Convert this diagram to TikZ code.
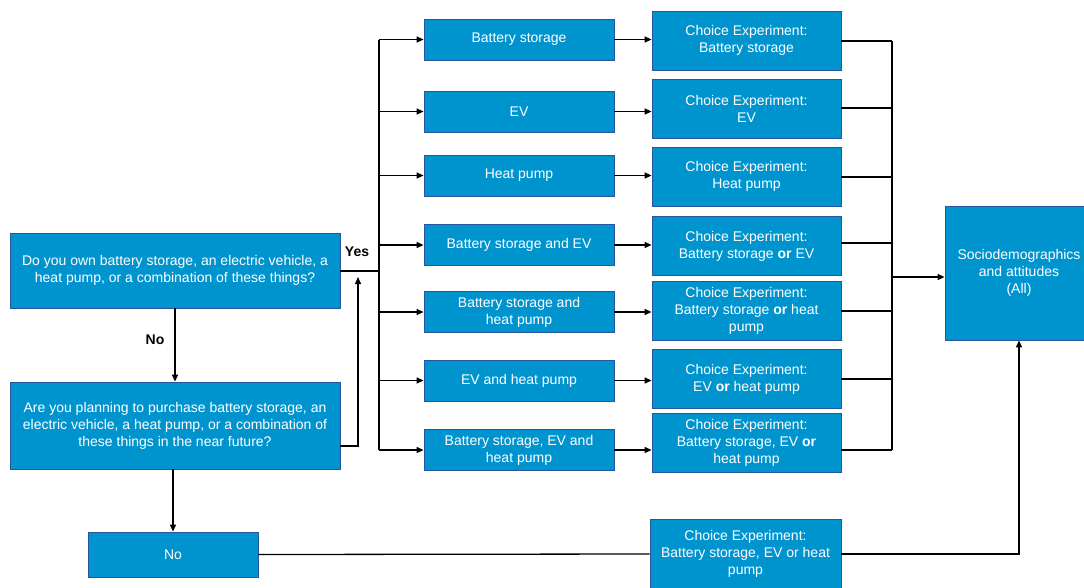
\documentclass[tikz,border=0pt]{standalone}
\usepackage{fontspec}
\setmainfont{Liberation Sans}
\usetikzlibrary{arrows.meta}
\definecolor{boxblue}{RGB}{0,148,207}
\definecolor{edgeblue}{RGB}{40,85,160}

\begin{document}
\begin{tikzpicture}[x=1pt, y=-1pt,
    box/.style={draw=edgeblue, line width=0.8pt, fill=boxblue, text=white, align=center,
        inner sep=2pt, font=\fontsize{14}{17}\selectfont},
    link/.style={line width=1.3pt},
    arr/.style={link, -{Triangle[length=7pt,width=6pt]}},
    lbl/.style={font=\fontsize{14}{17}\selectfont\bfseries}]
\useasboundingbox (0,0) rectangle (1084,587);

% Questions
\node[box, minimum width=330, minimum height=75] (q1) at (175,270.5)
    {Do you own battery storage, an electric vehicle, a\\heat pump, or a combination of these things?};
\node[box, minimum width=330, minimum height=87] (q2) at (175,425.5)
    {Are you planning to purchase battery storage, an\\electric vehicle, a heat pump, or a combination of\\these things in the near future?};
\node[box, minimum width=170, minimum height=45] (no) at (173,554.5) {No};

% Options owned or planned
\foreach \i/\y/\txt in {1/39.5/Battery storage, 2/111.5/EV, 3/175.5/Heat pump,
    4/245/Battery storage and EV, 5/312/{Battery storage and\\heat pump},
    6/380.5/EV and heat pump, 7/450/{Battery storage, EV and\\heat pump}} {
    \node[box, minimum width=190, minimum height=41] (opt\i) at (519,\y) {\txt};
}

% Choice experiments
\foreach \i/\y/\txt in {1/40.5/{Choice Experiment:\\Battery storage}, 2/108.5/{Choice Experiment:\\EV},
    3/176.5/{Choice Experiment:\\Heat pump}, 4/246/{Choice Experiment:\\Battery storage \textbf{or} EV},
    5/310.5/{Choice Experiment:\\Battery storage \textbf{or} heat\\pump},
    6/379/{Choice Experiment:\\EV \textbf{or} heat pump},
    7/443/{Choice Experiment:\\Battery storage, EV \textbf{or}\\heat pump}} {
    \node[box, minimum width=189, minimum height=59] (ce\i) at (746.5,\y) {\txt};
}
\node[box, minimum width=191, minimum height=70] (ce8) at (745.5,554)
    {Choice Experiment:\\Battery storage, EV or heat\\pump};

% Final block
\node[box, minimum width=148, minimum height=134] (socio) at (1019,273)
    {Sociodemographics\\and attitudes\\(All)};

% Yes branch
\coordinate (yes) at (379,271);
\coordinate (top) at (379,39.5);
\coordinate (bot) at (379,450);
\draw[link] (q1.east |- yes) -- (yes);
\draw[link] (top) -- (bot);
\coordinate (q2out) at (340,446);
\coordinate (up) at (358,446);
\draw[arr] (q2out) -- (up) -- (358,277);
\node[lbl] (yeslbl) at (357,252) {Yes};
\foreach \i in {1,...,7} {
    \draw[arr] (opt\i -| top) -- (opt\i.west);
    \draw[arr] (opt\i.east) -- (opt\i -| ce\i.west);
}

% No branch
\draw[arr] (q1.south) -- (q2.north);
\node[lbl] (nolbl) at (155,340) {No};
\draw[arr] (q2.south -| no.north) -- (no.north);
\draw[link] (no.east) -- (ce8.west);

% Merge into final block
\coordinate (mtop) at (892,41);
\coordinate (mbot) at (892,450);
\draw[link] (mtop) -- (mbot);
\foreach \i/\y in {1/41, 2/108, 3/177, 4/243, 5/311, 6/379, 7/450} {
    \draw[link] (ce\i.east |- 0,\y) -- (892,\y);
}
\coordinate (merge) at (892,277);
\draw[arr] (merge) -- (merge -| socio.west);
\coordinate (bend) at (1019,554);
\draw[arr] (ce8.east) -- (bend) -- (socio.south);
\end{tikzpicture}
\end{document}
